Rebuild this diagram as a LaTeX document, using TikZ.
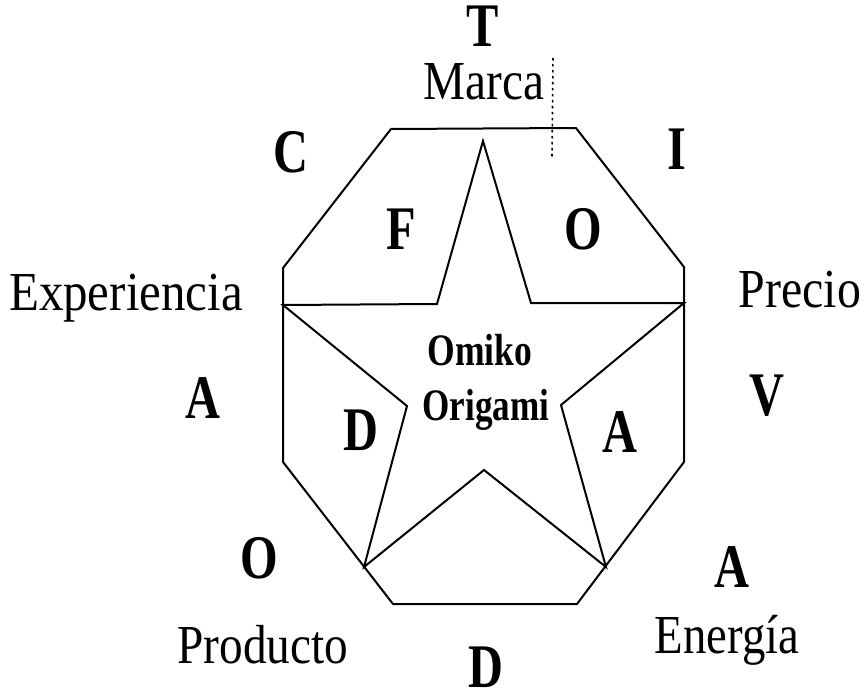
\documentclass[tikz,border=0pt]{standalone}
\usepackage{fontspec}
\setmainfont{Liberation Serif}
\begin{document}
\begin{tikzpicture}[x=1pt,y=-1pt,
  edge/.style={line width=2pt,line join=miter},
  big/.style={anchor=base,inner sep=0pt,font=\fontsize{62}{70}\selectfont\bfseries},
  lab/.style={anchor=base,inner sep=0pt,font=\fontsize{55}{62}\selectfont},
  mid/.style={anchor=base,inner sep=0pt,font=\fontsize{45}{50}\selectfont\bfseries}]
\useasboundingbox (0,0) rectangle (865,695);
% octagon
\coordinate (o1) at (391,129);
\coordinate (o2) at (576,128);
\coordinate (o3) at (684,267);
\coordinate (o4) at (684,462);
\coordinate (o5) at (577,604);
\coordinate (o6) at (393,604);
\coordinate (o7) at (283,462);
\coordinate (o8) at (283,268);
\draw[edge] (o1) -- (o2) -- (o3) -- (o4) -- (o5) -- (o6) -- (o7) -- (o8) -- cycle;
% star
\coordinate (sT) at (483,141);
\coordinate (iUL) at (437,304);
\coordinate (sL) at (283,305);
\coordinate (iL) at (407,406);
\coordinate (sBL) at (364,567);
\coordinate (iB) at (484,470);
\coordinate (sBR) at (606,567);
\coordinate (iR) at (561,405);
\coordinate (sR) at (684,303);
\coordinate (iUR) at (531,303);
\draw[edge] (sT) -- (iUL) -- (sL) -- (iL) -- (sBL) -- (iB) -- (sBR) -- (iR) -- (sR) -- (iUR) -- cycle;
% scan mark
\coordinate (d1) at (553,58);
\coordinate (d2) at (552,158);
\draw[line width=1.6pt,dash pattern=on 2.5pt off 3.5pt] (d1) -- (d2);
% letters
\node[big] (T) at (483,47) {\scalebox{0.78}[1]{T}};
\node[big] (C) at (291,173) {\scalebox{0.78}[1]{C}};
\node[big] (I) at (677,170) {\scalebox{0.78}[1]{I}};
\node[big] (F) at (401,250) {\scalebox{0.78}[1]{F}};
\node[big] (O1) at (583,250) {\scalebox{0.78}[1]{O}};
\node[big] (A1) at (203,418) {\scalebox{0.78}[1]{A}};
\node[big] (V) at (767,415) {\scalebox{0.78}[1]{V}};
\node[big] (D1) at (361,450) {\scalebox{0.78}[1]{D}};
\node[big] (A2) at (620,452) {\scalebox{0.78}[1]{A}};
\node[big] (O2) at (259,578) {\scalebox{0.78}[1]{O}};
\node[big] (A3) at (732,587) {\scalebox{0.78}[1]{A}};
\node[big] (D2) at (486,687) {\scalebox{0.78}[1]{D}};
% labels
\node[lab] (marca) at (484,100) {\scalebox{0.86}[1]{Marca}};
\node[lab] (exp) at (126,310) {\scalebox{0.89}[1]{Experiencia}};
\node[lab] (precio) at (800,307) {\scalebox{0.87}[1]{Precio}};
\node[lab] (prod) at (263,663) {\scalebox{0.86}[1]{Producto}};
\node[lab] (ener) at (727,653) {\scalebox{0.85}[1]{Energía}};
% centre
\node[mid] (omiko) at (480,365) {\scalebox{0.79}[1]{Omiko}};
\node[mid] (origami) at (486,420) {\scalebox{0.78}[1]{Origami}};
\end{tikzpicture}
\end{document}
